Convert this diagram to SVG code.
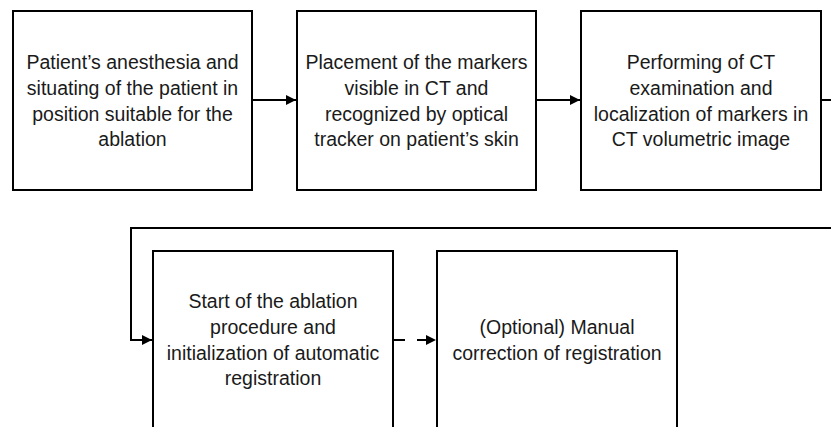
<svg xmlns="http://www.w3.org/2000/svg" width="831" height="427" viewBox="0 0 831 427">
<style>
.box{fill:#fff;stroke:#000;stroke-width:2}
.t{font-family:"Liberation Sans",Arial,sans-serif;font-size:19.5px;fill:#1a1a1a;text-anchor:middle}
.c{fill:none;stroke:#000;stroke-width:2}
</style>
<defs>
<marker id="ah" markerWidth="10" markerHeight="10" refX="10" refY="5" orient="auto" markerUnits="userSpaceOnUse">
<path d="M0,0 L10,5 L0,10 Z" fill="#000"/>
</marker>
</defs>
<rect width="831" height="427" fill="#fff"/>
<g id="connectors">
<line class="c" x1="252" y1="100" x2="296" y2="100" marker-end="url(#ah)"/>
<line class="c" x1="536" y1="100" x2="580" y2="100" marker-end="url(#ah)"/>
<polyline class="c" points="821,100 831,100"/>
<polyline class="c" points="831,228 131,228 131,340 152,340" marker-end="url(#ah)"/>
<line class="c" x1="393" y1="340" x2="436" y2="340" stroke-dasharray="12,12" marker-end="url(#ah)"/>
</g>
<g id="n1">
<rect class="box" x="13" y="11" width="239" height="179"/>
<text class="t" x="132.5" y="69">Patient’s anesthesia and</text>
<text class="t" x="132.5" y="95">situating of the patient in</text>
<text class="t" x="132.5" y="121">position suitable for the</text>
<text class="t" x="132.5" y="146">ablation</text>
</g>
<g id="n2">
<rect class="box" x="297" y="11" width="239" height="179"/>
<text class="t" x="416.5" y="69">Placement of the markers</text>
<text class="t" x="416.5" y="95">visible in CT and</text>
<text class="t" x="416.5" y="121">recognized by optical</text>
<text class="t" x="416.5" y="146">tracker on patient’s skin</text>
</g>
<g id="n3">
<rect class="box" x="581" y="11" width="240" height="179"/>
<text class="t" x="701" y="69">Performing of CT</text>
<text class="t" x="701" y="95">examination and</text>
<text class="t" x="701" y="121">localization of markers in</text>
<text class="t" x="701" y="146">CT volumetric image</text>
</g>
<g id="n4">
<rect class="box" x="153" y="251" width="240" height="190"/>
<text class="t" x="273" y="308">Start of the ablation</text>
<text class="t" x="273" y="334">procedure and</text>
<text class="t" x="273" y="360">initialization of automatic</text>
<text class="t" x="273" y="385">registration</text>
</g>
<g id="n5">
<rect class="box" x="437" y="251" width="240" height="190"/>
<text class="t" x="557" y="334">(Optional) Manual</text>
<text class="t" x="557" y="360">correction of registration</text>
</g>
</svg>
